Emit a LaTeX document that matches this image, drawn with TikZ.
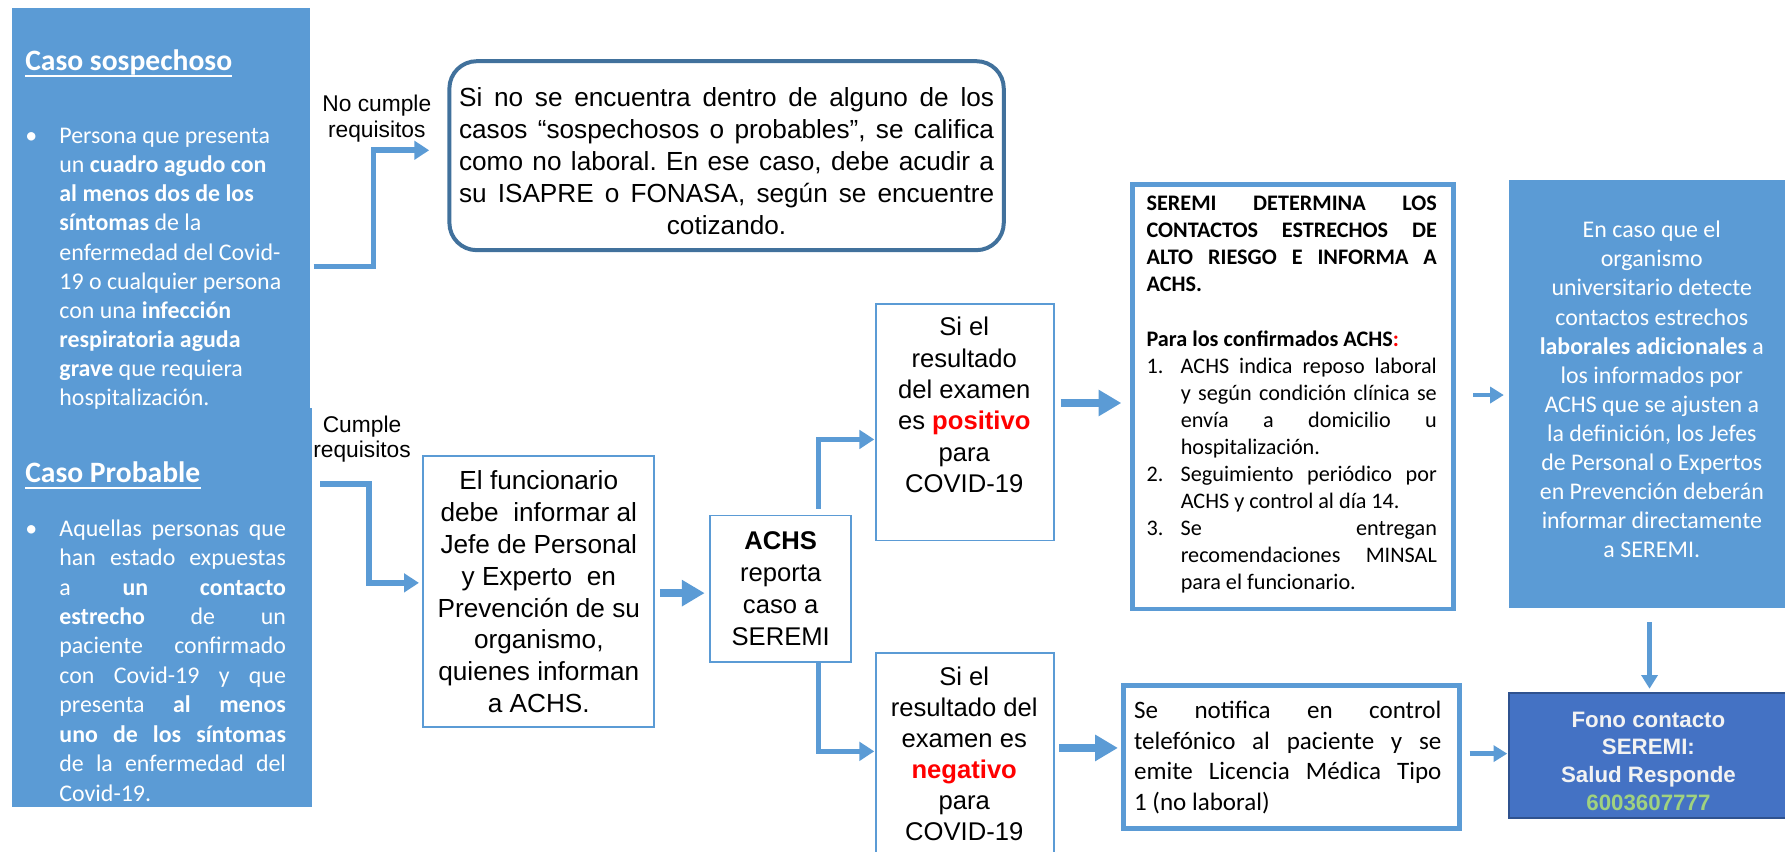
\documentclass[tikz,border=0pt]{standalone}
\usepackage{fontspec}
\setmainfont{Liberation Sans}
\newfontfamily\calfont{Carlito}
\usetikzlibrary{arrows.meta}
\frenchspacing
\definecolor{pblue}{HTML}{5B9BD5}
\definecolor{dblue}{HTML}{41719C}
\definecolor{fonob}{HTML}{4472C4}
\definecolor{fonoline}{HTML}{2F528F}
\definecolor{fonogreen}{HTML}{A0D27F}
\definecolor{fonowhite}{HTML}{F2F2F2}
\definecolor{tred}{HTML}{FF0000}
\tikzset{
  panelbox/.style={fill=pblue, draw=none, inner sep=0pt, anchor=north west},
  thinbox/.style={draw=pblue, line width=1.6pt, fill=white, inner sep=0pt, anchor=north west},
  heavybox/.style={draw=pblue, line width=4pt, fill=white, inner sep=0pt, anchor=north west},
  txt/.style={inner sep=0pt, anchor=base},
  conA/.style={draw=pblue, line width=5pt, -{Triangle[length=13pt,width=16pt]}},
  conB/.style={draw=pblue, line width=7.5pt, -{Triangle[length=20pt,width=22pt]}},
  conC/.style={draw=pblue, line width=4.2pt, -{Triangle[length=12pt,width=14pt]}},
}
\begin{document}
\begin{tikzpicture}[x=1pt,y=-1pt]
\useasboundingbox (0,0) rectangle (1568,748);

% left panel
\node[panelbox, minimum width=262pt, minimum height=353pt] (lefttop) at (10,7) {};
\node[panelbox, minimum width=264pt, minimum height=351pt] (leftbot) at (10,358) {};

\node[txt, anchor=base west, text=white, font=\calfont\bfseries\fontsize{26}{30}\selectfont] (tit1) at (22,62) {Caso sospechoso};
\draw[white, line width=1.4pt] ([yshift=-4.5pt]tit1.base west) -- ([yshift=-4.5pt]tit1.base east);
\node[txt, anchor=base west, text=white, font=\calfont\fontsize{21}{25.6}\selectfont] (bul1) at (22,126) {\textbullet};
\node[txt, anchor=base west, text=white] (par1) at (52,126) {\parbox[t]{199pt}{\calfont\fontsize{21}{25.6}\selectfont\raggedright
Persona que presenta\\
un \textbf{cuadro agudo con}\\
\textbf{al menos dos de los}\\
\textbf{síntomas} de la\\
enfermedad del Covid-\\
19 o cualquier persona\\
con una \textbf{infección}\\
\textbf{respiratoria aguda}\\
\textbf{grave} que requiera\\
hospitalización.}};

\node[txt, anchor=base west, text=white, font=\calfont\bfseries\fontsize{26}{30}\selectfont] (tit2) at (22,424) {Caso Probable};
\draw[white, line width=1.4pt] ([yshift=-4.5pt]tit2.base west) -- ([yshift=-4.5pt]tit2.base east);
\node[txt, anchor=base west, text=white, font=\calfont\fontsize{21}{25.6}\selectfont] (bul2) at (22,471) {\textbullet};
\node[txt, anchor=base west, text=white] (par2) at (52,471) {\parbox[t]{199pt}{\calfont\fontsize{21}{25.85}\selectfont\tolerance=10000\hbadness=10000
Aquellas personas que\linebreak
han estado expuestas\linebreak
a \textbf{un contacto}\linebreak
\textbf{estrecho} de un\linebreak
paciente confirmado\linebreak
con Covid-19 y que\linebreak
presenta \textbf{al menos}\linebreak
\textbf{uno de los síntomas}\linebreak
de la enfermedad del\linebreak
Covid-19.}};

% labels
\node[txt] (lab1) at (331,97.5) {\parbox[t]{120pt}{\centering\fontsize{20}{23}\selectfont No cumple\\requisitos}};
\node[txt] (lab2) at (318,379.5) {\parbox[t]{120pt}{\centering\fontsize{20}{22.5}\selectfont Cumple\\requisitos}};

% top rounded box
\node[draw=dblue, line width=3.5pt, rounded corners=24pt, fill=white, inner sep=0pt, anchor=north west,
      minimum width=487pt, minimum height=166pt] (topbox) at (393,52)
 {\parbox{470pt}{\vspace*{10pt}\fontsize{23}{28}\selectfont\tolerance=10000\hbadness=10000
 {\parfillskip=0pt Si no se encuentra dentro de alguno de los\linebreak
 casos “sospechosos o probables”, se califica\linebreak
 como no laboral. En ese caso, debe acudir a\linebreak
 su ISAPRE o FONASA, según se encuentre\par}
 \centering cotizando.\par}};

% middle boxes
\node[thinbox, minimum width=203pt, minimum height=238pt, align=center, font=\fontsize{23}{28}\selectfont] (fun) at (371,400)
 {El funcionario\\debe \ informar al\\Jefe de Personal\\y Experto \ en\\Prevención de su\\organismo,\\quienes informan\\a ACHS.};

\node[thinbox, minimum width=124pt, minimum height=129pt, align=center, font=\fontsize{22.5}{28}\selectfont] (achs) at (623,452)
 {\textbf{ACHS}\\reporta\\caso a\\SEREMI};

\node[thinbox, minimum width=156pt, minimum height=208pt] (pos) at (769,266) {};
\node[txt] (postxt) at (847,295) {\parbox[t]{154pt}{\centering\fontsize{22.5}{27.5}\selectfont
 Si el\\resultado\\del examen\\es \textcolor{tred}{\textbf{positivo}}\\para\\COVID-19}};

\node[thinbox, minimum width=156pt, minimum height=208pt] (neg) at (769,573) {};
\node[txt] (negtxt) at (847,602) {\parbox[t]{154pt}{\centering\fontsize{22.5}{27.3}\selectfont
 Si el\\resultado del\\examen es\\\textcolor{tred}{\textbf{negativo}}\\para\\COVID-19}};

% SEREMI box
\node[heavybox, minimum width=282pt, minimum height=373pt] (ser) at (993,160) {};
\node[txt, anchor=base west] (sertxt) at (1007,185) {\parbox[t]{255pt}{\calfont\fontsize{19.5}{23.8}\selectfont\tolerance=10000\hbadness=10000
 {\bfseries SEREMI DETERMINA LOS\linebreak
 CONTACTOS ESTRECHOS DE\linebreak
 ALTO RIESGO E INFORMA A\linebreak
 ACHS.\par}
 \vspace{23.8pt}
 {\bfseries Para los confirmados ACHS\textcolor{tred}{:}\par}
 \hangindent=30pt\hangafter=1 \makebox[30pt][l]{1.}ACHS indica reposo laboral\linebreak
 y según condición clínica se\linebreak
 envía a domicilio u\linebreak
 hospitalización.\par
 \hangindent=30pt\hangafter=1 \makebox[30pt][l]{2.}Seguimiento periódico por\linebreak
 ACHS y control al día 14.\par
 \hangindent=30pt\hangafter=1 \makebox[30pt][l]{3.}Se entregan\linebreak
 recomendaciones MINSAL\linebreak
 para el funcionario.\par}};

% Se notifica box
\node[heavybox, minimum width=295pt, minimum height=126pt] (notif) at (985,600) {};
\node[txt, anchor=base west] (notiftxt) at (996,631) {\parbox[t]{270pt}{\calfont\fontsize{22}{27}\selectfont\tolerance=10000\hbadness=10000
 Se notifica en control\linebreak
 telefónico al paciente y se\linebreak
 emite Licencia Médica Tipo\linebreak
 1 (no laboral)}};

% right panel
\node[panelbox, minimum width=250pt, minimum height=376pt] (rp) at (1325,158) {};
\node[txt, text=white] (rptxt) at (1451,209) {\parbox[t]{240pt}{\centering\calfont\fontsize{21}{25.5}\selectfont
 En caso que el\\organismo\\universitario detecte\\contactos estrechos\\\textbf{laborales adicionales} a\\los informados por\\ACHS que se ajusten a\\la definición, los Jefes\\de Personal o Expertos\\en Prevención deberán\\informar directamente\\a SEREMI.}};

% fono box
\node[fill=fonob, draw=fonoline, line width=1.2pt, inner sep=0pt, anchor=north west, minimum width=250pt, minimum height=110pt] (fono) at (1325,608) {};
\node[txt, text=fonowhite] (fonotxt) at (1448,639) {\parbox[t]{230pt}{\centering\bfseries\fontsize{19.6}{24.2}\selectfont
 Fono contacto\\SEREMI:\\Salud Responde\\\textcolor{fonogreen}{6003607777}}};

% connectors
\draw[conA, shorten <=3pt, shorten >=16pt] (lefttop.east |- 0,234) -- (328,234) |- (topbox.west |- 0,132);
\draw[conA, shorten <=7pt, shorten >=3pt] (leftbot.east |- 0,425) -- (324,425) |- (fun.west |- 0,512);
\draw[conB, shorten <=4pt, shorten >=4pt] (fun.east |- 0,521) -- (achs.west |- 0,521);
\draw[conA, shorten <=5pt, shorten >=1pt] (achs.north -| 719,0) |- (pos.west |- 0,386);
\draw[conA, shorten >=1pt] (achs.south -| 719,0) |- (neg.west |- 0,660);
\draw[conB, shorten <=5pt, shorten >=8pt] (pos.east |- 0,354) -- (ser.west |- 0,354);
\draw[conB, shorten <=4pt, shorten >=3pt] (neg.east |- 0,657) -- (notif.west |- 0,657);
\draw[conC, shorten <=15pt, shorten >=4pt] (ser.east |- 0,347) -- (rp.west |- 0,347);
\draw[conC, shorten <=7pt, shorten >=1pt] (notif.east |- 0,662) -- (fono.west |- 0,662);
\draw[conC, shorten <=12pt, shorten >=3pt] (rp.south -| 1449,0) -- (fono.north -| 1449,0);
\end{tikzpicture}
\end{document}
